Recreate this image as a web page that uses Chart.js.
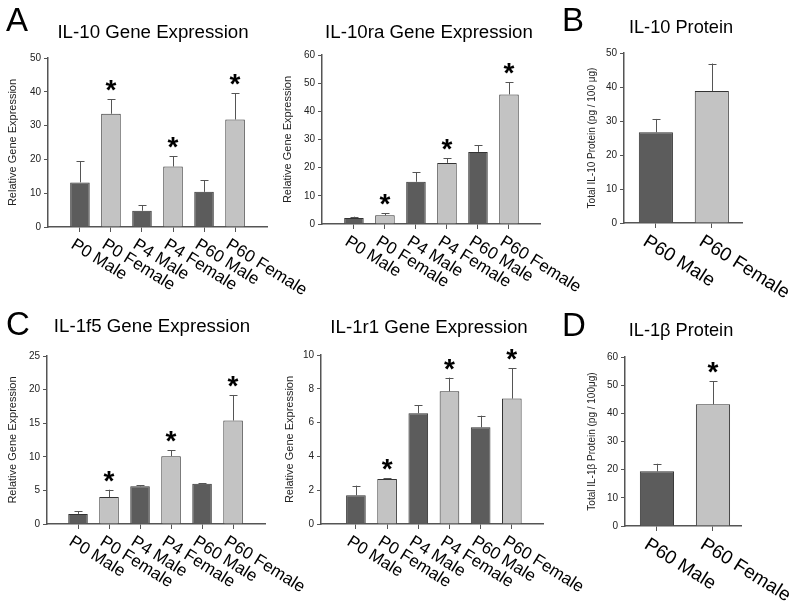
<!DOCTYPE html>
<html><head><meta charset="utf-8">
<script src="https://cdn.jsdelivr.net/npm/chart.js@4/dist/chart.umd.min.js"></script>
<style>
html,body{margin:0;padding:0;background:#fff;}
#wrap{position:relative;width:800px;height:603px;overflow:hidden;background:#fff;}
#wrap canvas{position:absolute;left:0;top:0;}
</style></head><body>
<div id="wrap">
<canvas id="pA1" width="800" height="603"></canvas>
<canvas id="pA2" width="800" height="603"></canvas>
<canvas id="pB" width="800" height="603"></canvas>
<canvas id="pC" width="800" height="603"></canvas>
<canvas id="pD2" width="800" height="603"></canvas>
<canvas id="pD" width="800" height="603"></canvas>
</div>
<script>
// ---- data ----
const groups6 = ['P0 Male','P0 Female','P4 Male','P4 Female','P60 Male','P60 Female'];
const groups2 = ['P60 Male','P60 Female'];

const il10Gene    = [13.2, 33.5, 4.8, 17.9, 10.4, 31.8];
const il10GeneErr = [6.3, 4.3, 1.6, 3.0, 3.5, 7.8];
const il10GeneSig = [false, true, false, true, false, true];

const il10raGene    = [2.1, 3.1, 15.0, 21.7, 25.6, 46.0];
const il10raGeneErr = [0.5, 0.7, 3.3, 1.7, 2.3, 4.3];
const il10raGeneSig = [false, true, false, true, false, true];

const il10Protein    = [26.7, 38.8];
const il10ProteinErr = [3.9, 8.1];
const il10ProteinSig = [false, false];

const il1f5Gene    = [1.5, 4.0, 5.6, 10.1, 6.0, 15.4];
const il1f5GeneErr = [0.4, 1.1, 0.2, 0.9, 0.1, 3.8];
const il1f5GeneSig = [false, true, false, true, false, true];

const il1r1Gene    = [1.7, 2.66, 6.55, 7.85, 5.72, 7.42];
const il1r1GeneErr = [0.57, 0.04, 0.47, 0.81, 0.69, 1.81];
const il1r1GeneSig = [false, true, false, true, false, true];

const il1bProtein    = [19.4, 43.2];
const il1bProteinErr = [2.7, 8.2];
const il1bProteinSig = [false, true];

// y-axis tick settings [max, step]
const il10GeneTicks   = [50, 10];
const il10raGeneTicks = [60, 10];
const il10ProtTicks   = [50, 10];
const il1f5GeneTicks  = [25, 5];
const il1r1GeneTicks  = [10, 2];
const il1bProtTicks   = [60, 10];

// ---- style ----
const DARK = '#5c5c5c', LIGHT = '#c3c3c3';
const FONT = '"Liberation Sans", Arial, sans-serif';
const AXIS = '#555';

const decor = {
  id: 'decor',
  afterDatasetsDraw(chart, args, opts) {
    const ctx = chart.ctx, ys = chart.scales.y;
    const ds = chart.data.datasets[0];
    const meta = chart.getDatasetMeta(0);
    ctx.save();
    meta.data.forEach((bar, i) => {
      const v = ds.data[i].y, e = ds.errorBars[i];
      const top = ys.getPixelForValue(v), et = ys.getPixelForValue(v + e);
      const bx = Math.round(bar.x) + 0.5;
      ctx.strokeStyle = '#555';
      ctx.lineWidth = 1;
      ctx.beginPath();
      ctx.moveTo(bx, top);
      ctx.lineTo(bx, et);
      ctx.moveTo(bx - 4, Math.round(et) + 0.5);
      ctx.lineTo(bx + 4, Math.round(et) + 0.5);
      ctx.stroke();
      if (ds.significant[i]) {
        ctx.fillStyle = '#000';
        ctx.font = 'bold 28px ' + FONT;
        ctx.textAlign = 'center';
        ctx.textBaseline = 'alphabetic';
        ctx.fillText('*', bar.x, et);
      }
    });
    ctx.restore();
  },
  afterDraw(chart, args, opts) {
    const ctx = chart.ctx, xs = chart.scales.x, ys = chart.scales.y;
    ctx.save();
    ctx.fillStyle = '#000';
    ctx.textBaseline = 'alphabetic';
    ctx.textAlign = 'center';
    ctx.font = opts.titleSize + 'px ' + FONT;
    ctx.fillText(opts.title, opts.titleX, opts.titleY);
    if (opts.letter) {
      ctx.textAlign = 'left';
      ctx.font = '33px ' + FONT;
      ctx.fillText(opts.letter, opts.letterX, opts.letterY);
    }
    // rotated category labels
    const cats = chart.data.labels;
    ctx.font = opts.labelSize + 'px ' + FONT;
    ctx.textAlign = 'left';
    ctx.textBaseline = 'top';
    cats.forEach((c, i) => {
      const px = xs.getPixelForValue(i);
      ctx.save();
      ctx.translate(px - opts.labelDx, ys.bottom + opts.labelDy);
      ctx.rotate(32 * Math.PI / 180);
      ctx.fillText(c, 0, 0);
      ctx.restore();
    });
    ctx.restore();
  }
};

function makePanel(id, cats, vals, errs, sig, ticks, L) {
  const colors = cats.map(c => c.includes('Female') ? LIGHT : DARK);
  new Chart(document.getElementById(id), {
    type: 'bar',
    data: {
      labels: cats,
      datasets: [{
        data: vals.map((v, i) => ({x: i, y: v})),
        errorBars: errs,
        significant: sig,
        backgroundColor: colors,
        borderColor: '#333',
        borderWidth: 1,
        categoryPercentage: 1,
        barPercentage: L.barPct
      }]
    },
    options: {
      responsive: false,
      animation: false,
      devicePixelRatio: 1,
      layout: {padding: {left: L.padL, top: L.top, right: 800 - L.axisEnd, bottom: 0}},
      plugins: {
        legend: {display: false},
        tooltip: {enabled: false},
        title: {display: false},
        decor: L.decor
      },
      scales: {
        x: {
          type: 'linear',
          min: L.xmin, max: L.xmax,
          offset: false,
          afterBuildTicks: s => { s.ticks = cats.map((c, i) => ({value: i})); },
          afterFit: s => { s.height = 603 - L.zeroY; },
          ticks: {display: false},
          grid: {display: true, offset: false, drawOnChartArea: false, drawTicks: true, tickLength: 5, color: AXIS, lineWidth: 1},
          border: {display: true, color: AXIS, width: 1.5}
        },
        y: {
          min: 0, max: ticks[0],
          afterFit: s => { s.width = L.axisX - L.padL; },
          ticks: {stepSize: ticks[1], font: {family: FONT, size: 10}, color: '#222', padding: 3},
          grid: {drawOnChartArea: false, drawTicks: true, tickLength: 4, color: AXIS},
          border: {display: true, color: AXIS, width: 1.5},
          title: {display: true, text: L.yTitle, font: {family: FONT, size: L.yTitleSize}, color: '#222', padding: {top: 0, bottom: 0}}
        }
      }
    },
    plugins: [decor]
  });
}

makePanel('pA1', groups6, il10Gene, il10GeneErr, il10GeneSig, il10GeneTicks, {
  padL: 6.4, top: 58, axisEnd: 267, zeroY: 227, axisX: 48, xmin: -1.03, xmax: 6.03, barPct: 0.63,
  yTitle: 'Relative Gene Expression', yTitleSize: 11,
  decor: {title: 'IL-10 Gene Expression', titleX: 153, titleY: 38, titleSize: 18.7, letter: 'A', letterX: 6, letterY: 31, labelSize: 17, labelDx: 3, labelDy: 9}
});
makePanel('pA2', groups6, il10raGene, il10raGeneErr, il10raGeneSig, il10raGeneTicks, {
  padL: 281.4, top: 55, axisEnd: 540, zeroY: 224, axisX: 322, xmin: -1.03, xmax: 6.0, barPct: 0.63,
  yTitle: 'Relative Gene Expression', yTitleSize: 11,
  decor: {title: 'IL-10ra Gene Expression', titleX: 429, titleY: 38, titleSize: 18.7, labelSize: 17, labelDx: 3, labelDy: 9}
});
makePanel('pB', groups2, il10Protein, il10ProteinErr, il10ProteinSig, il10ProtTicks, {
  padL: 586, top: 53, axisEnd: 742, zeroY: 223, axisX: 624, xmin: -0.57, xmax: 1.54, barPct: 0.61,
  yTitle: 'Total IL-10 Protein (pg / 100 μg)', yTitleSize: 10,
  decor: {title: 'IL-10 Protein', titleX: 681, titleY: 33, titleSize: 18.2, letter: 'B', letterX: 562, letterY: 31, labelSize: 19, labelDx: 6, labelDy: 9}
});
makePanel('pC', groups6, il1f5Gene, il1f5GeneErr, il1f5GeneSig, il1f5GeneTicks, {
  padL: 6.4, top: 356, axisEnd: 265, zeroY: 524, axisX: 47, xmin: -1.0, xmax: 6.03, barPct: 0.63,
  yTitle: 'Relative Gene Expression', yTitleSize: 11,
  decor: {title: 'IL-1f5 Gene Expression', titleX: 152, titleY: 332, titleSize: 18.7, letter: 'C', letterX: 6, letterY: 335, labelSize: 17, labelDx: 3, labelDy: 9}
});
makePanel('pD2', groups6, il1r1Gene, il1r1GeneErr, il1r1GeneSig, il1r1GeneTicks, {
  padL: 283.4, top: 355, axisEnd: 543, zeroY: 524, axisX: 321, xmin: -1.12, xmax: 6.0, barPct: 0.63,
  yTitle: 'Relative Gene Expression', yTitleSize: 11,
  decor: {title: 'IL-1r1 Gene Expression', titleX: 429, titleY: 333, titleSize: 18.7, labelSize: 17, labelDx: 3, labelDy: 9}
});
makePanel('pD', groups2, il1bProtein, il1bProteinErr, il1bProteinSig, il1bProtTicks, {
  padL: 586, top: 357, axisEnd: 741, zeroY: 526, axisX: 625, xmin: -0.57, xmax: 1.5, barPct: 0.61,
  yTitle: 'Total IL-1β Protein (pg / 100μg)', yTitleSize: 10,
  decor: {title: 'IL-1β Protein', titleX: 681, titleY: 336, titleSize: 18.2, letter: 'D', letterX: 562, letterY: 336, labelSize: 19, labelDx: 6, labelDy: 9}
});
</script>
</body></html>
